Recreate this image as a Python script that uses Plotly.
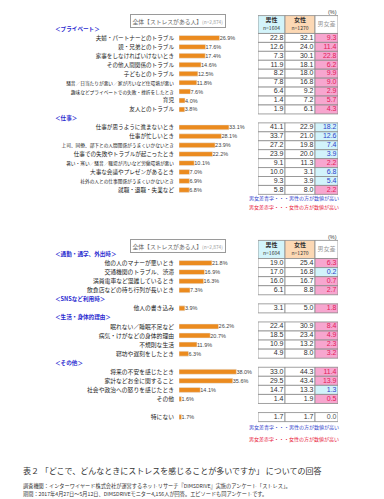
import plotly.graph_objects as go

W, H = 384, 499

# ---------------- data ----------------
private_labels = ["夫婦・パートナーとのトラブル", "親・兄弟とのトラブル", "家事をしなければいけないとき",
                  "その他人間関係のトラブル", "子どもとのトラブル",
                  "騒音／日当たりが悪い／家が汚いなど住環境が悪い",
                  "趣味などプライベートでの失敗・挫折をしたとき", "育児", "友人とのトラブル"]
private_total = [26.9, 17.6, 17.4, 14.6, 12.5, 11.8, 7.6, 4.0, 3.8]
private_male = [22.8, 12.6, 7.3, 11.9, 8.2, 7.8, 6.4, 1.4, 1.9]
private_female = [32.1, 24.0, 30.1, 18.1, 18.0, 16.8, 9.2, 7.2, 6.1]
private_diff = [9.3, 11.4, 22.8, 6.2, 9.9, 9.0, 2.9, 5.7, 4.3]

work_labels = ["仕事が思うように進まないとき", "仕事が忙しいとき",
               "上司、同僚、部下との人間関係がうまくいかないとき",
               "仕事での失敗やトラブルが起こったとき",
               "暑い・寒い／騒音／職場が汚いなど労働環境が悪い",
               "大事な会議やプレゼンがあるとき", "社外の人との仕事関係がうまくいかないとき",
               "就職・退職・失業など"]
work_total = [33.1, 28.1, 23.9, 22.2, 10.1, 7.0, 6.9, 6.8]
work_male = [41.1, 33.7, 27.2, 23.9, 9.1, 10.0, 9.3, 5.8]
work_female = [22.9, 21.0, 19.8, 20.0, 11.3, 3.1, 3.9, 8.0]
work_diff = [18.2, 12.6, 7.4, 3.9, 2.2, 6.8, 5.4, 2.2]

commute_labels = ["他の人のマナーが悪いとき", "交通機関のトラブル、渋滞",
                  "満員電車など混雑しているとき", "飲食店などの待ち行列が長いとき"]
commute_total = [21.8, 16.9, 16.3, 7.3]
commute_male = [19.0, 17.0, 16.0, 6.1]
commute_female = [25.4, 16.8, 16.7, 8.8]
commute_diff = [6.3, 0.2, 0.7, 2.7]

sns_labels = ["他人の書き込み"]
sns_total = [3.9]
sns_male = [3.1]
sns_female = [5.0]
sns_diff = [1.8]

life_labels = ["眠れない／睡眠不足など", "病気・けがなどの身体的理由", "不規則な生活", "寝坊や遅刻をしたとき"]
life_total = [26.2, 20.7, 11.9, 6.3]
life_male = [22.4, 18.5, 10.9, 4.9]
life_female = [30.9, 23.4, 13.2, 8.0]
life_diff = [8.4, 4.9, 2.3, 3.2]

other_labels = ["将来の不安を感じたとき", "家計などお金に関すること", "社会や政治への怒りを感じたとき", "その他"]
other_total = [38.0, 35.6, 14.1, 1.6]
other_male = [33.0, 29.5, 14.7, 1.4]
other_female = [44.3, 43.4, 13.3, 1.9]
other_diff = [11.4, 13.9, 1.3, 0.5]

none_labels = ["特にない"]
none_total = [1.7]
none_male = [1.7]
none_female = [1.7]
none_diff = [0.0]

top_sections = [
    ("＜プライベート＞", private_labels, private_total, private_male, private_female, private_diff),
    ("＜仕事＞", work_labels, work_total, work_male, work_female, work_diff),
]
bottom_sections = [
    ("＜通勤・通学、外出時＞", commute_labels, commute_total, commute_male, commute_female, commute_diff),
    ("＜SNSなど利用時＞", sns_labels, sns_total, sns_male, sns_female, sns_diff),
    ("＜生活・身体的理由＞", life_labels, life_total, life_male, life_female, life_diff),
    ("＜その他＞", other_labels, other_total, other_male, other_female, other_diff),
    ("", none_labels, none_total, none_male, none_female, none_diff),
]

# ---------------- styles ----------------
JP = "Noto Sans CJK JP"
NUM = "Liberation Sans"
BAR_C = "#EB8B1F"
BLUE_T = "#2f3fc8"
RED_T = "#e0205a"
PINK = "#f7a6cf"
LBLUE = "#d2f3fb"
HDR_M = "#d3f4fa"
HDR_F = "#fcd8b4"
GRID = "#8a8a8a"

col_starts = [0, 27, 57]
col_widths = [27, 30, 23]


def px(p):
    return p / W


def py(p):
    return 1 - p / H


def small(label):
    n = len(label)
    if n >= 20:
        return f"<span style='font-size:4.7px'>{label}</span>"
    return label


fig = go.Figure()
annotations = []


def build_panel(sections, xa, ya, xt, yname_bar):
    rows, labels, total, heads = [], [], [], []
    cell_y, cell_base, cell_w, cell_c = [], [], [], []
    txt_x, txt_y, txt_s, txt_c = [], [], [], []
    r = 0
    for head, labs, tot, male, female, diff in sections:
        heads.append((r, head))
        r += 1
        for lab, t, m, f, d in zip(labs, tot, male, female, diff):
            rows.append(r)
            labels.append(small(lab))
            total.append(t)
            if m > f:
                dbg, dtc = LBLUE, BLUE_T
            elif m < f:
                dbg, dtc = PINK, RED_T
            else:
                dbg, dtc = "white", "#555"
            for ci, (val, bg, tc) in enumerate([(m, "white", "#333"), (f, "white", "#333"), (d, dbg, dtc)]):
                cell_y.append(r)
                cell_base.append(col_starts[ci])
                cell_w.append(col_widths[ci])
                cell_c.append(bg)
                txt_x.append(col_starts[ci] + col_widths[ci] - 1.5)
                txt_y.append(r)
                txt_s.append(f"{val:.1f}")
                txt_c.append(tc)
            r += 1
    # bars
    fig.add_trace(go.Bar(
        x=total, y=rows, orientation="h", width=0.55, marker_color=BAR_C,
        texttemplate="%{x:.1f}%", textposition="outside", constraintext="none",
        textfont=dict(family=NUM, size=5.5, color="#444"), cliponaxis=False,
        xaxis=xa, yaxis=ya, hoverinfo="skip", showlegend=False))
    # table header
    fig.add_trace(go.Bar(
        x=col_widths, base=col_starts, y=[-0.5] * 3, width=2, orientation="h",
        marker=dict(color=[HDR_M, HDR_F, "white"], line=dict(color=GRID, width=0.8)),
        xaxis=xt, yaxis=ya, hoverinfo="skip", showlegend=False))
    hdr_text = ["<b>男性</b><br><span style='font-size:5px'>n=1604</span>",
                "<b>女性</b><br><span style='font-size:5px'>n=1270</span>",
                "男女差"]
    fig.add_trace(go.Scatter(
        x=[s + w / 2 for s, w in zip(col_starts, col_widths)], y=[-0.5] * 3,
        mode="text", text=hdr_text, textposition="middle center",
        textfont=dict(family=JP, size=6, color=["#333", "#333", "#999"]),
        xaxis=xt, yaxis=ya, hoverinfo="skip", showlegend=False, cliponaxis=False))
    # table cells
    fig.add_trace(go.Bar(
        x=cell_w, base=cell_base, y=cell_y, width=1, orientation="h",
        marker=dict(color=cell_c, line=dict(color=GRID, width=0.8)),
        xaxis=xt, yaxis=ya, hoverinfo="skip", showlegend=False))
    fig.add_trace(go.Scatter(
        x=txt_x, y=txt_y, mode="text", text=txt_s, textposition="middle left",
        textfont=dict(family=NUM, size=7, color=txt_c),
        xaxis=xt, yaxis=ya, hoverinfo="skip", showlegend=False, cliponaxis=False))
    for hr, head in heads:
        if head:
            annotations.append(dict(
                x=px(53), xref="paper", y=hr, yref=yname_bar, xanchor="left", yanchor="middle",
                text=f"<b>{head}</b>", showarrow=False,
                font=dict(family=JP, size=5.6, color="#2a2ad0")))
    return rows, labels


# layout coordinates
TOP_ROW0, TOP_STEP = 29, 8.94
BOT_ROW0, BOT_STEP = 254, 9.06
YR = [19.5, -2.5]

t_rows, t_labels = build_panel(top_sections, "x", "y", "x2", "y")
b_rows, b_labels = build_panel(bottom_sections, "x3", "y3", "x4", "y3")

bar_dom = [px(179), px(179 + 50 * 1.51)]
tab_dom = [px(258), px(338)]

ax_hidden = dict(visible=False, showgrid=False, zeroline=False, fixedrange=True)


def ydom(row0, step):
    return [py(row0 + YR[0] * step), py(row0 + YR[1] * step)]


def yaxis_cfg(row0, step, rows, labels, size, anchor):
    return dict(domain=ydom(row0, step), range=YR, tickvals=rows, ticktext=labels,
                showgrid=False, zeroline=False, showline=False, ticks="",
                tickfont=dict(family=JP, size=size, color="#222"), anchor=anchor,
                ticklabelstandoff=4, fixedrange=True)


fig.update_layout(
    width=W, height=H, margin=dict(l=0, r=0, t=0, b=0),
    paper_bgcolor="white", plot_bgcolor="rgba(0,0,0,0)",
    barmode="overlay", showlegend=False, hovermode=False,
    xaxis=dict(ax_hidden, domain=bar_dom, range=[0, 50], anchor="y"),
    xaxis2=dict(ax_hidden, domain=tab_dom, range=[0, 80], anchor="y"),
    xaxis3=dict(ax_hidden, domain=bar_dom, range=[0, 50], anchor="y3"),
    xaxis4=dict(ax_hidden, domain=tab_dom, range=[0, 80], anchor="y3"),
    yaxis=yaxis_cfg(TOP_ROW0, TOP_STEP, t_rows, t_labels, 5.6, "x"),
    yaxis3=yaxis_cfg(BOT_ROW0, BOT_STEP, b_rows, b_labels, 5.8, "x3"),
)

box_text = "全体【ストレスがある人】<span style='font-size:4.8px;color:#9a9a9a'>(n=2,874)</span>"
for yb, ypct in [(21.5, 12), (246, 237)]:
    annotations.append(dict(x=px(177.5), y=py(yb), xref="paper", yref="paper", text=box_text,
                            showarrow=False, xanchor="center", yanchor="middle",
                            font=dict(family=JP, size=5.8, color="#666"),
                            bordercolor="#9a9a9a", borderwidth=1, borderpad=1.5, bgcolor="white"))
    annotations.append(dict(x=px(332), y=py(ypct), xref="paper", yref="paper", text="(%)",
                            showarrow=False, xanchor="center", yanchor="middle",
                            font=dict(family=NUM, size=5.5, color="#444")))

for yb, yr in [(198, 207), (427, 439)]:
    annotations.append(dict(x=px(247), y=py(yb), xref="paper", yref="paper",
                            text="男女差青字・・・男性の方が数値が高い", showarrow=False,
                            xanchor="left", yanchor="middle",
                            font=dict(family=JP, size=5, color="#3344cc")))
    annotations.append(dict(x=px(247), y=py(yr), xref="paper", yref="paper",
                            text="男女差赤字・・・女性の方が数値が高い", showarrow=False,
                            xanchor="left", yanchor="middle",
                            font=dict(family=JP, size=5, color="#e8203a")))

annotations.append(dict(x=px(21), y=py(470), xref="paper", yref="paper",
                        text="表２ 「どこで、どんなときにストレスを感じることが多いですか」 についての回答",
                        showarrow=False, xanchor="left", yanchor="middle",
                        font=dict(family=JP, size=8, color="#333")))
annotations.append(dict(x=px(21), y=py(486), xref="paper", yref="paper",
                        text="調査機関：インターワイヤード株式会社が運営するネットリサーチ『DIMSDRIVE』実施のアンケート「ストレス」。",
                        showarrow=False, xanchor="left", yanchor="middle",
                        font=dict(family=JP, size=5.2, color="#333")))
annotations.append(dict(x=px(21), y=py(494), xref="paper", yref="paper",
                        text="期間：2017年4月27日～5月12日、DIMSDRIVEモニター4,156人が回答。エピソードも同アンケートです。",
                        showarrow=False, xanchor="left", yanchor="middle",
                        font=dict(family=JP, size=5.2, color="#333")))

fig.update_layout(annotations=annotations)
fig.write_html("out.html")
